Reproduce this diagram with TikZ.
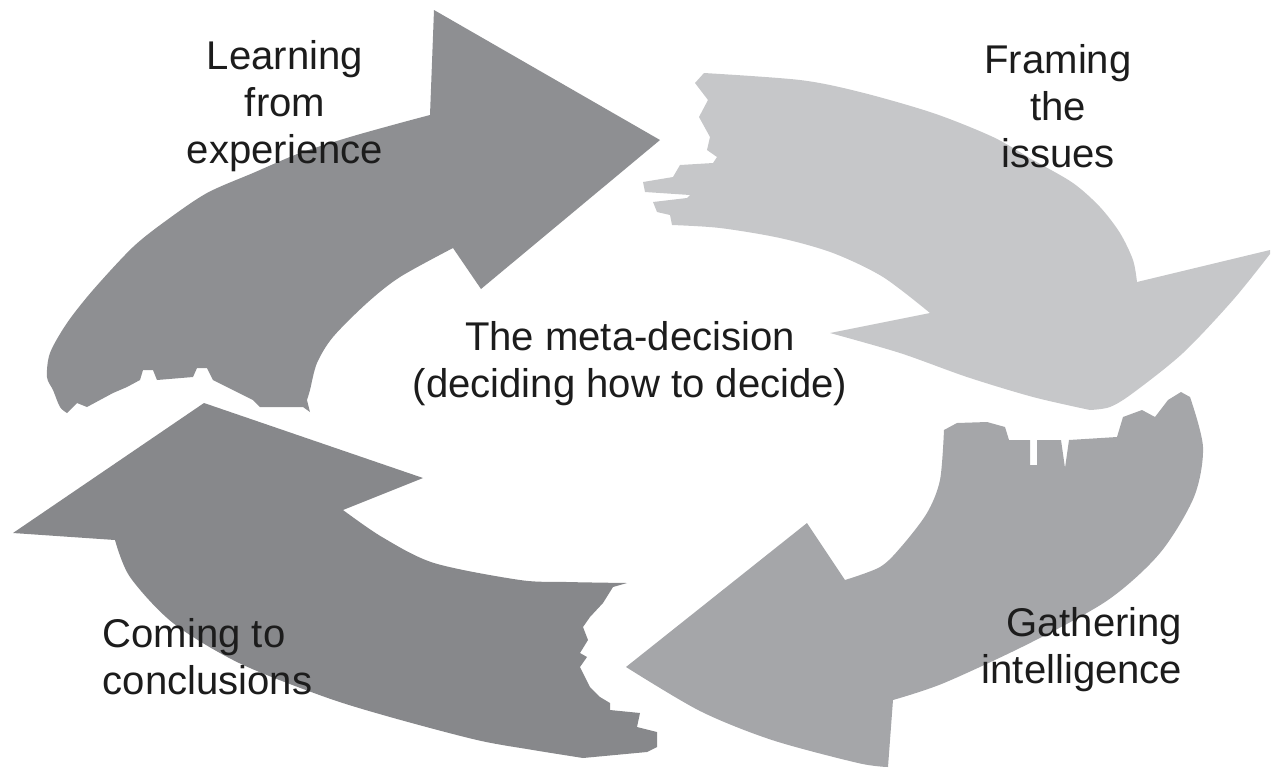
\documentclass[tikz,border=0pt]{standalone}
\usepackage{fontspec}
\setmainfont{Liberation Sans}
\usepackage{xcolor}
\definecolor{learncol}{HTML}{8E8F92}
\definecolor{framecol}{HTML}{C6C7C9}
\definecolor{gathercol}{HTML}{A5A6A9}
\definecolor{concludecol}{HTML}{87888B}
\definecolor{inkcol}{HTML}{1C1C1C}
\tikzset{
    stage/.style={draw=none},
    caption/.style={
        font=\fontsize{11.4}{13.4}\selectfont,
        text=inkcol,
        inner sep=0pt
    },
}

\begin{document}
\begin{tikzpicture}
            [x=0.01cm, y=-0.01cm]
            \useasboundingbox (0,0) rectangle (1275,769);
            % Learning from experience
            \fill[stage, learncol] (67,413) -- plot[smooth] coordinates {(67,413) (60,407) (53,390) (47,377) (50,353) (67,323) (93,290) (133,247) (167,220) (207,193) (253,173) (300,153) (350,137) (400,123) (430,115)}
                -- (434,10) -- (660,140) -- (481,289) -- (453,248)
                -- plot[smooth] coordinates {(453,248) (400,277) (367,303) (333,337) (317,363) (310,390) (307,400)}
                -- (310,412) -- (303,407) -- (260,407) -- (253,400) -- (233,390) -- (213,380) -- (207,368) -- (197,368) -- (193,377) -- (157,380)
                -- (153,370) -- (143,370) -- (140,380) -- (127,387) -- (113,393) -- (100,400) -- (87,407) -- (77,403) -- cycle;
            % Framing the issues
            \fill[stage, framecol] (704,73) -- plot[smooth] coordinates {(704,73) (800,80) (860,92) (933,113) (993,137) (1033,160) (1073,183) (1100,207) (1120,233) (1133,260) (1137,282)}
                -- (1270,250) -- plot[smooth] coordinates {(1270,254) (1233,300) (1183,353) (1133,393) (1110,407) (1090,410)}
                -- plot[smooth] coordinates {(1090,410) (1033,397) (967,377) (900,353) (830,333)}
                -- (930,313) -- plot[smooth] coordinates {(930,313) (883,277) (833,253) (780,238) (720,228) (672,225)}
                -- (670,215) -- (657,212) -- (653,202) -- (687,198) -- (690,195) -- (645,192) -- (643,182) -- (673,177) -- (680,165)
                -- (713,163) -- (717,157) -- (707,150) -- (710,137) -- (699,117) -- (708,100) -- (695,83) -- cycle;
            % Gathering intelligence
            \fill[stage, gathercol] (944,430) -- (957,423) -- (987,422) -- (1005,427) -- (1009,440) -- (1030,440) -- (1030,465) -- (1037,465)
                -- (1037,440) -- (1061,440) -- (1065,468) -- (1069,440) -- (1117,437) -- (1123,417) -- (1142,410) -- (1155,417) -- (1168,400)
                -- (1181,392) -- (1190,397)
                -- plot[smooth] coordinates {(1190,397) (1203,447) (1194,497) (1160,553) (1108,600) (1030,643) (944,683) (893,700)}
                -- (888,767) -- plot[smooth] coordinates {(888,767) (858,763) (772,740) (700,711) (626,667)}
                -- (807,523) -- (845,580)
                -- plot[smooth] coordinates {(845,580) (880,567) (901,547) (927,513) (940,480) (944,430)} -- cycle;
            % Coming to conclusions
            \fill[stage, concludecol] (13,533) -- (204,403) -- (423,478) -- (343,510)
                -- plot[smooth] coordinates {(343,510) (382,537) (434,563) (520,580) (567,582) (627,583)}
                -- (613,587) -- (603,603) -- (590,617) -- (583,627) -- (588,640) -- (580,653) -- (587,657) -- (580,667) -- (590,687)
                -- (600,697) -- (610,703) -- (610,710) -- (640,713) -- (637,727) -- (657,732) -- (657,747) -- (647,752) -- (583,758)
                -- plot[smooth] coordinates {(583,758) (533,750) (477,740) (390,717) (325,697) (239,663) (173,623) (130,577) (115,540)} -- cycle;

            \node[caption, align=center] (learn) at (285,106) {Learning\\from\\experience};
            \node[caption, align=center] (frame) at (1058,106) {Framing\\the\\issues};
            \node[caption, align=center] (meta) at (630,364) {The meta-decision\\(deciding how to decide)};
            \node[caption, align=right, anchor=east] (gather) at (1183,650) {Gathering\\intelligence};
            \node[caption, align=left, anchor=west] (conclude) at (102,657) {Coming to\\conclusions};

        \end{tikzpicture}
\end{document}
